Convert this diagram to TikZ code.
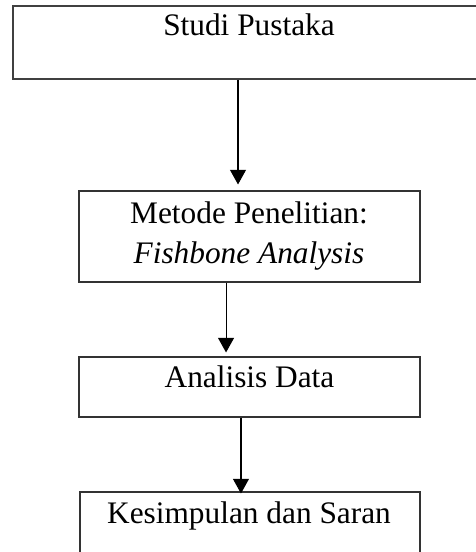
\documentclass[tikz,border=0pt]{standalone}
\usepackage{fontspec}
\setmainfont{Liberation Serif}
\usetikzlibrary{arrows.meta}
\begin{document}
\begin{tikzpicture}[x=0.75pt,y=-0.75pt,
  box/.style={draw=black!80,line width=0.8pt,rectangle,inner sep=0pt},
  lbl/.style={anchor=base,inner sep=0pt,font=\fontsize{23.5}{30}\selectfont},
  flow/.style={draw=black,line width=0.8pt,-{Triangle[width=12pt,length=11pt]}}]
\useasboundingbox (0,0) rectangle (475,552);
\node[box,line width=1.3pt,draw=black!75,minimum width=472*0.75pt,minimum height=73*0.75pt] (b1) at (249,42.5) {};
\node[box,minimum width=341*0.75pt,minimum height=91*0.75pt] (b2) at (249.5,236.5) {};
\node[box,minimum width=341*0.75pt,minimum height=60*0.75pt] (b3) at (249.5,387) {};
\node[box,minimum width=340*0.75pt,minimum height=80*0.75pt] (b4) at (250,532) {};
\node[lbl] (t1) at (249,36) {Studi Pustaka};
\node[lbl] (t2) at (249,223) {Metode Penelitian:};
\node[lbl] (t2b) at (249,263) {\itshape Fishbone Analysis};
\node[lbl] (t3) at (249.5,387) {Analisis Data};
\node[lbl] (t4) at (249,523) {Kesimpulan dan Saran};
\draw[flow,shorten >=4.5pt] ([xshift=-8.25pt]b1.south) -- ([xshift=-8.25pt]b1.south |- b2.north);
\draw[flow,shorten >=3pt] ([xshift=-17.6pt]b2.south) -- ([xshift=-17.6pt]b2.south |- b3.north);
\draw[flow,shorten >=-1.5pt] ([xshift=-6.4pt]b3.south) -- ([xshift=-6.4pt]b3.south |- b4.north);
\end{tikzpicture}
\end{document}
